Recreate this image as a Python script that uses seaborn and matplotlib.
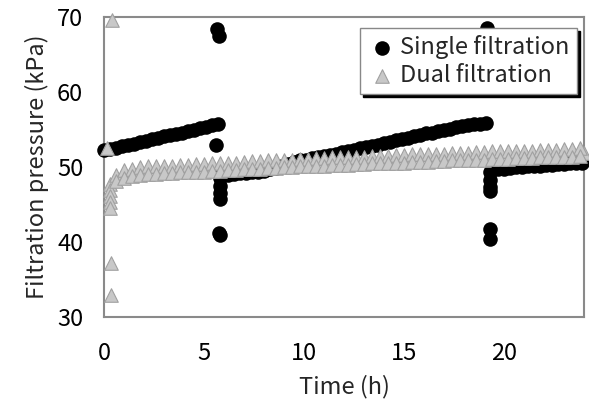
import pandas as pd
import seaborn as sns
import matplotlib.pyplot as plt

# single filtration: readings (h, kPa) taken off the chart
single_t = [0.0, 0.3, 0.6, 0.9, 1.2, 1.5, 1.8, 2.1, 2.4, 2.7, 3.0, 3.3, 3.6, 3.9, 4.2, 4.5, 4.8, 5.1, 5.4, 5.7,
            5.65, 5.75, 5.6,
            5.8, 5.8, 5.8, 5.8, 5.8, 5.75, 5.8,
            5.9, 6.2, 6.5, 6.8, 7.1, 7.4, 7.7, 8.0, 8.3, 8.6, 8.9, 9.2, 9.5, 9.8, 10.1, 10.4, 10.7, 11.0, 11.3, 11.6,
            11.9, 12.2, 12.5, 12.8, 13.1, 13.4, 13.7, 14.0, 14.3, 14.6, 14.9, 15.2, 15.5, 15.8, 16.1, 16.4, 16.7,
            17.0, 17.3, 17.6, 17.9, 18.2, 18.5, 18.8, 19.1,
            19.15, 19.15,
            19.3, 19.3, 19.3, 19.3, 19.3, 19.3,
            19.4, 19.7, 20.0, 20.3, 20.6, 20.9, 21.2, 21.5, 21.8, 22.1, 22.4, 22.7, 23.0, 23.3, 23.6, 23.9]
single_p = [52.3, 52.4, 52.6, 52.8, 52.9, 53.1, 53.3, 53.5, 53.7, 53.9, 54.1, 54.3, 54.4, 54.6, 54.8, 55.0, 55.2, 55.4, 55.6, 55.8,
            68.4, 67.5, 52.9,
            49.5, 48.5, 47.5, 46.5, 45.7, 41.2, 40.9,
            48.9, 49.0, 49.1, 49.2, 49.2, 49.3, 49.4, 49.5, 49.7, 49.9, 50.1, 50.4, 50.7, 50.9, 51.0, 51.2, 51.3, 51.5, 51.6, 51.8,
            52.0, 52.1, 52.3, 52.5, 52.7, 52.8, 53.0, 53.2, 53.4, 53.6, 53.7, 53.9, 54.1, 54.3, 54.5, 54.6, 54.8,
            55.0, 55.1, 55.3, 55.5, 55.6, 55.7, 55.8, 55.9,
            68.5, 67.9,
            49.3, 48.3, 47.4, 46.8, 41.7, 40.4,
            49.6, 49.7, 49.8, 49.9, 50.0, 50.0, 50.1, 50.2, 50.2, 50.3, 50.3, 50.4, 50.4, 50.5, 50.5, 50.6]

# dual filtration: start-up points, then the band (upper and lower edge of the scatter)
dual_start_t = [0.15, 0.4, 0.35, 0.35, 0.3, 0.3, 0.3, 0.3, 0.3, 24.0]
dual_start_p = [52.5, 69.6, 37.2, 32.9, 47.8, 47.0, 46.2, 45.4, 44.6, 51.9]
band_t = [0.6, 1.0, 1.4, 1.8, 2.2, 2.6, 3.0, 3.4, 3.8, 4.2, 4.6, 5.0, 5.4, 5.8, 6.2, 6.6, 7.0, 7.4, 7.8, 8.2,
          8.6, 9.0, 9.4, 9.8, 10.2, 10.6, 11.0, 11.4, 11.8, 12.2, 12.6, 13.0, 13.4, 13.8, 14.2, 14.6, 15.0,
          15.4, 15.8, 16.2, 16.6, 17.0, 17.4, 17.8, 18.2, 18.6, 19.0, 19.4, 19.8, 20.2, 20.6, 21.0, 21.4,
          21.8, 22.2, 22.6, 23.0, 23.4, 23.8]
band_upper = [48.9, 49.6, 49.8, 50.0, 50.1, 50.1, 50.2, 50.2, 50.3, 50.3, 50.4, 50.4, 50.5, 50.5, 50.6, 50.6, 50.7, 50.8, 50.8, 50.9,
              50.9, 51.0, 51.0, 51.1, 51.1, 51.2, 51.2, 51.3, 51.3, 51.3, 51.4, 51.4, 51.5, 51.5, 51.5, 51.6, 51.6,
              51.7, 51.7, 51.7, 51.8, 51.8, 51.9, 51.9, 51.9, 52.0, 52.0, 52.1, 52.1, 52.1, 52.2, 52.2, 52.2,
              52.3, 52.3, 52.3, 52.4, 52.4, 52.5]
band_lower = [48.2, 48.6, 48.8, 49.0, 49.1, 49.1, 49.2, 49.2, 49.3, 49.3, 49.4, 49.4, 49.5, 49.5, 49.6, 49.6, 49.7, 49.8, 49.8, 49.9,
              49.9, 50.0, 50.0, 50.1, 50.1, 50.2, 50.2, 50.3, 50.3, 50.3, 50.4, 50.4, 50.5, 50.5, 50.5, 50.6, 50.6,
              50.7, 50.7, 50.7, 50.8, 50.8, 50.9, 50.9, 50.9, 51.0, 51.0, 51.1, 51.1, 51.1, 51.2, 51.2, 51.2,
              51.3, 51.3, 51.3, 51.4, 51.4, 51.5]

single = pd.DataFrame({'Time': single_t, 'Pressure': single_p})
dual = pd.concat([pd.DataFrame({'Time': dual_start_t, 'Pressure': dual_start_p}),
                  pd.DataFrame({'Time': band_t, 'Pressure': band_upper}),
                  pd.DataFrame({'Time': band_t, 'Pressure': band_lower})], ignore_index=True)

sns.set_style('white')
plt.rcParams['font.family'] = ['Noto Sans CJK JP', 'DejaVu Sans']

fig = plt.figure(figsize=(5.89, 4.07), dpi=100)
ax = fig.add_axes([0.1766, 0.2211, 0.815, 0.737])

sns.scatterplot(data=single, x='Time', y='Pressure', ax=ax, marker='o', s=110, color='black',
                edgecolor='black', linewidth=0, label='Single filtration', clip_on=False, zorder=3)
sns.scatterplot(data=dual, x='Time', y='Pressure', ax=ax, marker='^', s=95, color='#c8c8c8',
                edgecolor='#a0a0a0', linewidth=0.8, label='Dual filtration', clip_on=False, zorder=4)

ax.set_xlim(0, 24)
ax.set_ylim(30, 70)
ax.set_xticks([0, 5, 10, 15, 20])
ax.set_yticks([30, 40, 50, 60, 70])
ax.tick_params(direction='in', length=5, width=1, color='#888888', labelsize=17, labelcolor='black')
ax.tick_params(axis='x', pad=18)
ax.tick_params(axis='y', pad=15)
for sp in ax.spines.values():
    sp.set_color('#8a8a8a')
    sp.set_linewidth(1.5)

ax.set_xlabel('Time (h)', fontsize=17, labelpad=7)
ax.set_ylabel('Filtration pressure (kPa)', fontsize=17, labelpad=6)

leg = ax.legend(loc='upper right', bbox_to_anchor=(0.985, 0.963), borderaxespad=0, fontsize=17,
                frameon=True, fancybox=False, shadow={'color': 'black', 'alpha': 1},
                handletextpad=0.2, borderpad=0.3, labelspacing=0.2, handlelength=1.2)
leg.get_frame().set_edgecolor('#888888')
leg.get_frame().set_linewidth(1)
leg.get_frame().set_alpha(1)

plt.savefig('out.png', dpi=100)
